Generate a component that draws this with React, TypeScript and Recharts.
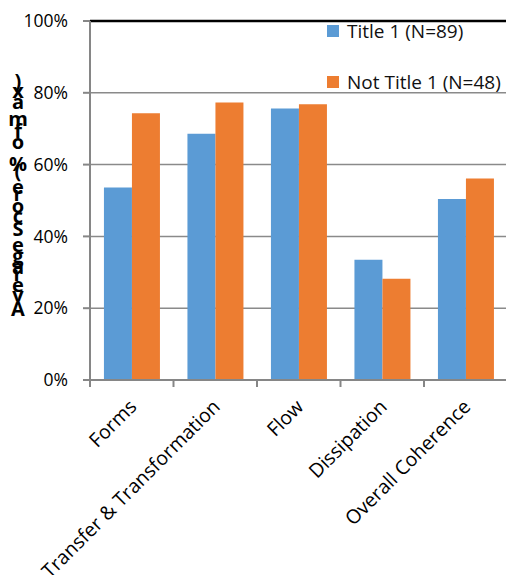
import React from "react";
import { BarChart, Bar, XAxis, YAxis, CartesianGrid, ReferenceLine, Legend } from "recharts";

const categories = ["Forms", "Transfer & Transformation", "Flow", "Dissipation", "Overall Coherence"];
const title1 = [0.536, 0.686, 0.756, 0.335, 0.504];
const notTitle1 = [0.743, 0.773, 0.768, 0.282, 0.561];
const yTicks = [0, 0.2, 0.4, 0.6, 0.8, 1];
const seriesNames = ["Title 1 (N=89)", "Not Title 1 (N=48)"];
const seriesColors = ["#5B9BD5", "#ED7D31"];
const yAxisLabel = "Average Score (% of max)";

const data = categories.map((c, i) => ({ name: c, t1: title1[i], nt1: notTitle1[i] }));

const FONT = "'Open Sans', 'Noto Sans', sans-serif";

const ADV: Record<string, number> = {
  A: 0.722, v: 0.556, e: 0.556, r: 0.389, a: 0.556, g: 0.611, " ": 0.278,
  S: 0.667, c: 0.556, o: 0.611, "(": 0.333, "%": 0.889, f: 0.333, m: 0.889,
  x: 0.556, ")": 0.333,
};

const YLabel = () => {
  const fs = 19;
  let y = 316;
  const chars = yAxisLabel.split("");
  const els: React.ReactNode[] = [];
  chars.forEach((ch, i) => {
    if (ch !== " ") {
      els.push(
        <text key={i} x={18} y={y} textAnchor="middle" fontSize={20} fontWeight="bold" fontFamily={FONT} fill="#000">
          {ch}
        </text>
      );
    }
    y -= (ADV[ch] ?? 0.55) * fs;
  });
  return <g>{els}</g>;
};

const XTick = (props: any) => {
  const { x, y, payload } = props;
  const off = payload && typeof payload.offset === "number" ? payload.offset : 0;
  const tx = x + 6;
  const ty = y + 28;
  return (
    <g>
      <line x1={x - off} x2={x - off} y1={y} y2={y + 7} stroke="#868686" strokeWidth={2} />
      <text
        x={tx}
        y={ty}
        textAnchor="end"
        transform={`rotate(-45, ${tx}, ${ty})`}
        fontSize={19.5}
        fontFamily={FONT}
        fill="#000"
      >
        {payload.value}
      </text>
    </g>
  );
};

const LegendContent = () => (
  <div style={{ fontFamily: FONT, fontSize: 19, color: "#111" }}>
    {seriesNames.map((n, i) => (
      <div
        key={n}
        style={{ display: "flex", alignItems: "center", height: 26, marginTop: i === 0 ? 0 : 25, whiteSpace: "nowrap" }}
      >
        <span style={{ display: "inline-block", width: 12, height: 12, background: seriesColors[i], marginRight: 8 }} />
        <span>{n}</span>
      </div>
    ))}
  </div>
);

export default function App() {
  return (
    <div style={{ position: "absolute", left: 0, top: 0, width: 506, height: 575, overflow: "hidden", background: "#fff" }}>
      <BarChart
        width={510}
        height={575}
        data={data}
        margin={{ top: 21, right: 2.5, bottom: 5, left: 30 }}
        barCategoryGap="16.7%"
        barGap={0}
      >
        <CartesianGrid vertical={false} stroke="#8a8a8a" strokeWidth={1.5} />
        <XAxis
          dataKey="name"
          interval={0}
          height={190}
          tickSize={0}
          tickMargin={0}
          tickLine={false}
          axisLine={{ stroke: "#868686", strokeWidth: 2 }}
          tick={<XTick />}
        />
        <YAxis
          width={60}
          domain={[0, 1]}
          ticks={yTicks}
          interval={0}
          tickFormatter={(v: number) => `${Math.round(v * 100)}%`}
          tickSize={7}
          tickMargin={15}
          tickLine={{ stroke: "#868686", strokeWidth: 2 }}
          axisLine={{ stroke: "#868686", strokeWidth: 2 }}
          tick={{ fill: "#000", fontSize: 17.5, fontFamily: FONT }}
          label={<YLabel />}
        />
        <ReferenceLine y={1} stroke="#000" strokeWidth={2.5} />
        <Bar dataKey="t1" name={seriesNames[0]} fill={seriesColors[0]} isAnimationActive={false} />
        <Bar dataKey="nt1" name={seriesNames[1]} fill={seriesColors[1]} isAnimationActive={false} />
        <Legend
          layout="horizontal"
          verticalAlign="middle"
          align="center"
          content={<LegendContent />}
          wrapperStyle={{ position: "absolute", left: 327, top: 18, width: "auto" }}
        />
      </BarChart>
    </div>
  );
}
